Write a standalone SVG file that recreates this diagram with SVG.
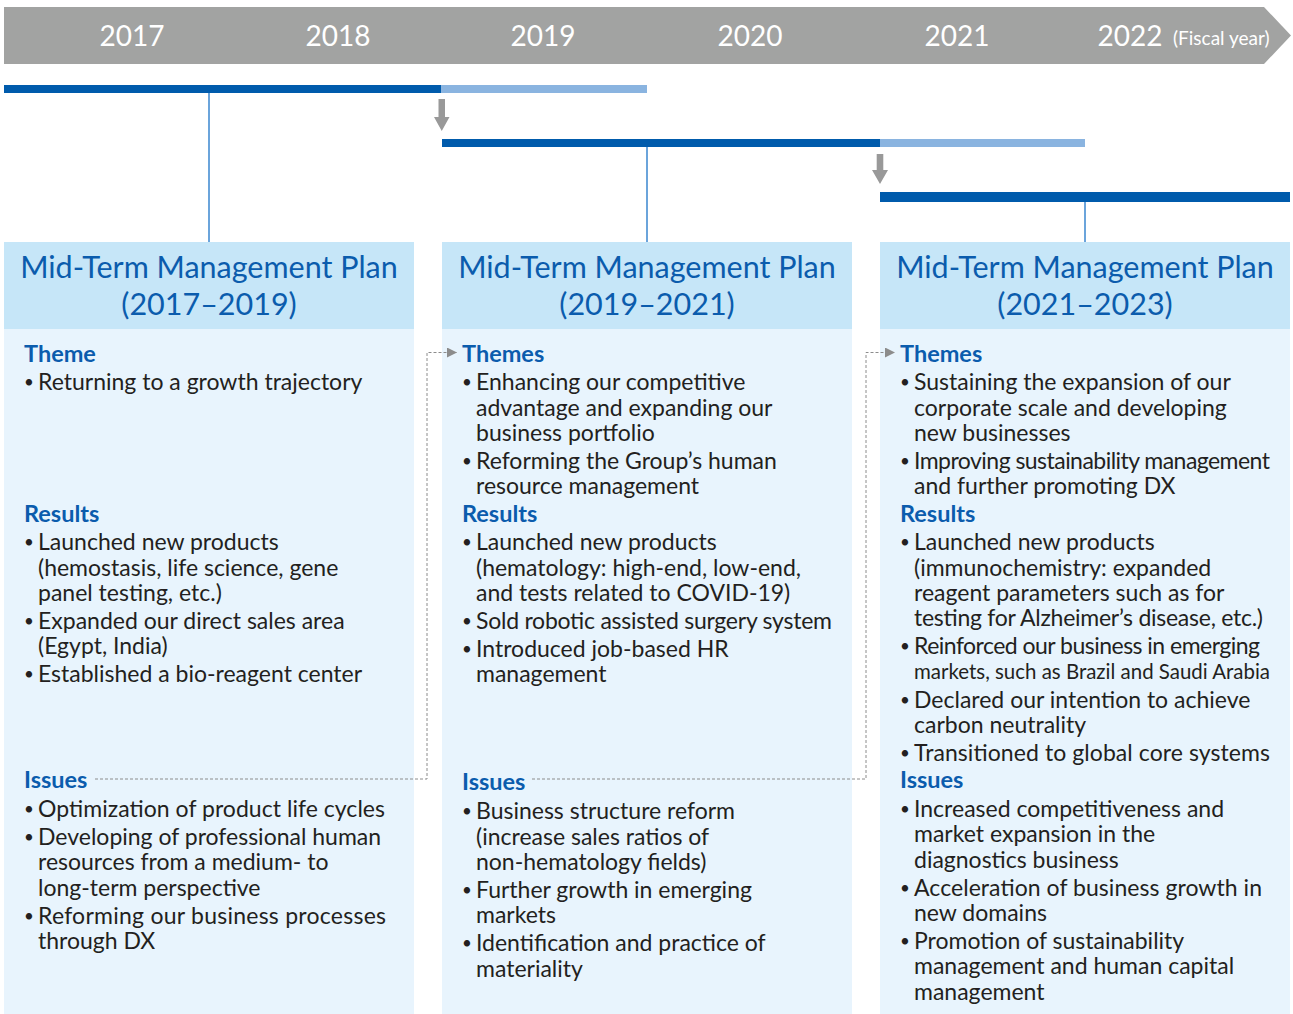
<svg xmlns="http://www.w3.org/2000/svg" width="1293" height="1014" viewBox="0 0 1293 1014">
<defs>
<style>
.yr{font-family:Lato,"Liberation Sans",sans-serif;font-size:28px;fill:#fff;text-anchor:middle}
.fy{font-family:Lato,"Liberation Sans",sans-serif;font-size:19px;fill:#fff}
.hd{font-family:Lato,"Liberation Sans",sans-serif;font-size:30.5px;fill:#0b5cad;text-anchor:middle}
.sh{font-family:Lato,"Liberation Sans",sans-serif;font-size:23.5px;font-weight:bold;fill:#0b5cad}
.tx{font-family:Lato,"Liberation Sans",sans-serif;font-size:23px;fill:#231f20}
.bu{font-family:Lato,"Liberation Sans",sans-serif;font-size:17px;fill:#231f20}
.dk{fill:#005bac}
.lt{fill:#8ab4e0}
.vl{stroke:#3a86cf;stroke-width:1.5;fill:none}
.hdr{fill:#c6e6f8}
.bdy{fill:#e8f4fd}
.dot{stroke:#8c8c8c;stroke-width:1;stroke-dasharray:3,2;fill:none}
.ga{fill:#999}
</style>
<marker id="ah" markerWidth="10" markerHeight="10" refX="10" refY="5" orient="auto" markerUnits="userSpaceOnUse">
<path d="M0,0 L10,5 L0,10 Z" fill="#8c8c8c"/>
</marker>
</defs>

<g id="timeline">
<polygon points="4,7 1264,7 1291,35.5 1264,64 4,64" fill="#a2a3a2"/>
<text class="yr" x="132" y="46">2017</text>
<text class="yr" x="338" y="46">2018</text>
<text class="yr" x="543" y="46">2019</text>
<text class="yr" x="750" y="46">2020</text>
<text class="yr" x="957" y="46">2021</text>
<text class="yr" x="1130" y="46">2022</text>
<text class="fy" x="1173" y="45">(Fiscal year)</text>
</g>

<g id="bars">
<rect class="dk" x="4" y="85" width="437" height="8"/>
<rect class="lt" x="441" y="85" width="206" height="8"/>
<rect class="dk" x="442" y="139" width="438" height="8"/>
<rect class="lt" x="880" y="139" width="205" height="8"/>
<rect class="dk" x="880" y="192" width="410" height="10"/>
<path class="ga" d="M438.5,99 H445 V117 H449.5 L441.75,131 L434,117 H438.5 Z"/>
<path class="ga" d="M876.7,154 H883.3 V170 H888 L880,184 L872,170 H876.7 Z"/>
</g>

<g id="plan1">
<rect class="hdr" x="4" y="242" width="410" height="87"/>
<rect class="bdy" x="4" y="329" width="410" height="685"/>
<text class="hd" x="209" y="278">Mid-Term Management Plan</text>
<text class="hd" x="209" y="315">(2017–2019)</text>
<text class="sh" x="24" y="362">Theme</text>
<text class="bu" x="24" y="388">•</text><text class="tx" x="38" y="390">Returning to a growth trajectory</text>
<text class="sh" x="24" y="522">Results</text>
<text class="bu" x="24" y="548">•</text><text class="tx" x="38" y="550">Launched new products</text>
<text class="tx" x="38" y="576">(hemostasis, life science, gene</text>
<text class="tx" x="38" y="601">panel testing, etc.)</text>
<text class="bu" x="24" y="627">•</text><text class="tx" x="38" y="629">Expanded our direct sales area</text>
<text class="tx" x="38" y="654">(Egypt, India)</text>
<text class="bu" x="24" y="680">•</text><text class="tx" x="38" y="682">Established a bio-reagent center</text>
<text class="sh" x="24" y="788">Issues</text>
<text class="bu" x="24" y="815">•</text><text class="tx" x="38" y="817" textLength="347">Optimization of product life cycles</text>
<text class="bu" x="24" y="843">•</text><text class="tx" x="38" y="845">Developing of professional human</text>
<text class="tx" x="38" y="870">resources from a medium- to</text>
<text class="tx" x="38" y="896">long-term perspective</text>
<text class="bu" x="24" y="922">•</text><text class="tx" x="38" y="924" textLength="348">Reforming our business processes</text>
<text class="tx" x="38" y="949">through DX</text>
</g>

<g id="plan2">
<rect class="hdr" x="442" y="242" width="410" height="87"/>
<rect class="bdy" x="442" y="329" width="410" height="685"/>
<text class="hd" x="647" y="278">Mid-Term Management Plan</text>
<text class="hd" x="647" y="315">(2019–2021)</text>
<text class="sh" x="462" y="362">Themes</text>
<text class="bu" x="462" y="388">•</text><text class="tx" x="476" y="390">Enhancing our competitive</text>
<text class="tx" x="476" y="416">advantage and expanding our</text>
<text class="tx" x="476" y="441">business portfolio</text>
<text class="bu" x="462" y="467">•</text><text class="tx" x="476" y="469">Reforming the Group’s human</text>
<text class="tx" x="476" y="494">resource management</text>
<text class="sh" x="462" y="522">Results</text>
<text class="bu" x="462" y="548">•</text><text class="tx" x="476" y="550">Launched new products</text>
<text class="tx" x="476" y="576">(hematology: high-end, low-end,</text>
<text class="tx" x="476" y="601">and tests related to COVID-19)</text>
<text class="bu" x="462" y="627">•</text><text class="tx" x="476" y="629" textLength="356">Sold robotic assisted surgery system</text>
<text class="bu" x="462" y="655">•</text><text class="tx" x="476" y="657">Introduced job-based HR</text>
<text class="tx" x="476" y="682">management</text>
<text class="sh" x="462" y="790">Issues</text>
<text class="bu" x="462" y="817">•</text><text class="tx" x="476" y="819">Business structure reform</text>
<text class="tx" x="476" y="845">(increase sales ratios of</text>
<text class="tx" x="476" y="870">non-hematology fields)</text>
<text class="bu" x="462" y="896">•</text><text class="tx" x="476" y="898">Further growth in emerging</text>
<text class="tx" x="476" y="923">markets</text>
<text class="bu" x="462" y="949">•</text><text class="tx" x="476" y="951">Identification and practice of</text>
<text class="tx" x="476" y="977">materiality</text>
</g>

<g id="plan3">
<rect class="hdr" x="880" y="242" width="410" height="87"/>
<rect class="bdy" x="880" y="329" width="410" height="685"/>
<text class="hd" x="1085" y="278">Mid-Term Management Plan</text>
<text class="hd" x="1085" y="315">(2021–2023)</text>
<text class="sh" x="900" y="362">Themes</text>
<text class="bu" x="900" y="388">•</text><text class="tx" x="914" y="390">Sustaining the expansion of our</text>
<text class="tx" x="914" y="416">corporate scale and developing</text>
<text class="tx" x="914" y="441">new businesses</text>
<text class="bu" x="900" y="467">•</text><text class="tx" x="914" y="469" textLength="356">Improving sustainability management</text>
<text class="tx" x="914" y="494">and further promoting DX</text>
<text class="sh" x="900" y="522">Results</text>
<text class="bu" x="900" y="548">•</text><text class="tx" x="914" y="550">Launched new products</text>
<text class="tx" x="914" y="576">(immunochemistry: expanded</text>
<text class="tx" x="914" y="601">reagent parameters such as for</text>
<text class="tx" x="914" y="626" textLength="349">testing for Alzheimer’s disease, etc.)</text>
<text class="bu" x="900" y="652">•</text><text class="tx" x="914" y="654" textLength="346">Reinforced our business in emerging</text>
<text class="tx" x="914" y="679" style="font-size:21px" textLength="356" lengthAdjust="spacingAndGlyphs">markets, such as Brazil and Saudi Arabia</text>
<text class="bu" x="900" y="706">•</text><text class="tx" x="914" y="708">Declared our intention to achieve</text>
<text class="tx" x="914" y="733">carbon neutrality</text>
<text class="bu" x="900" y="759">•</text><text class="tx" x="914" y="761" textLength="356">Transitioned to global core systems</text>
<text class="sh" x="900" y="788">Issues</text>
<text class="bu" x="900" y="815">•</text><text class="tx" x="914" y="817">Increased competitiveness and</text>
<text class="tx" x="914" y="842">market expansion in the</text>
<text class="tx" x="914" y="868">diagnostics business</text>
<text class="bu" x="900" y="894">•</text><text class="tx" x="914" y="896" textLength="348">Acceleration of business growth in</text>
<text class="tx" x="914" y="921">new domains</text>
<text class="bu" x="900" y="947">•</text><text class="tx" x="914" y="949">Promotion of sustainability</text>
<text class="tx" x="914" y="974">management and human capital</text>
<text class="tx" x="914" y="1000">management</text>
</g>

<g id="connectors">
<line class="vl" x1="209" y1="93" x2="209" y2="242"/>
<line class="vl" x1="647" y1="147" x2="647" y2="242"/>
<line class="vl" x1="1085" y1="202" x2="1085" y2="242"/>
<path class="dot" d="M95,779 H427 V352.5 H457" marker-end="url(#ah)"/>
<path class="dot" d="M532,779 H866 V352.5 H895" marker-end="url(#ah)"/>
</g>
</svg>
